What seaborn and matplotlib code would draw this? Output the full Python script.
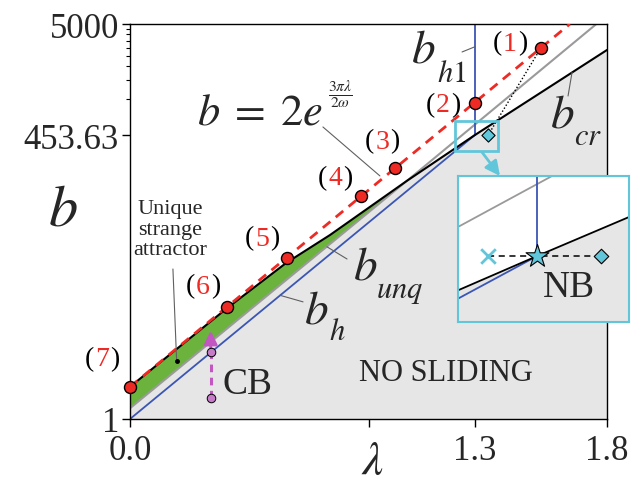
import numpy as np
import pandas as pd
import matplotlib
matplotlib.use("Agg")
import matplotlib.pyplot as plt
import seaborn as sns
from matplotlib.patches import Rectangle
from matplotlib.ticker import FixedLocator, NullFormatter
from matplotlib.offsetbox import TextArea, HPacker, AnnotationBbox

# ── data ─────────────────────────────────────────────────────────────────
lam_red = [0.0, 1.66]                      # b = 2 exp(3 pi lambda / 2 omega)
b_red = [2.0, 5000.0]

lam_cr = [0.0, 0.366, 0.589, 0.755, 1.045, 1.3, 1.8]
b_cr = [2.0, 10.9, 28.9, 52.9, 170.0, 453.63, 2856.0]

lam_unq = [0.0, 1.045, 1.76]
b_unq = [1.26, 170.0, 5000.0]

lam_h = [0.0, 1.3]
b_h = [1.0, 453.63]

lam_h1 = [1.3, 1.3]
b_h1 = [453.63, 5000.0]

pt_names = ["1", "2", "3", "4", "5", "6", "7"]
lam_pts = [1.55, 1.3, 1.0, 0.872, 0.591, 0.367, 0.0]
b_pts = [2970.0, 920.0, 225.0, 122.0, 32.0, 11.3, 2.0]

lam_nb, b_nb = 1.351, 453.63
lam_cb = 0.3045
b_cb = [1.57, 4.2]
b_cb_tip = 6.7
lam_usa, b_usa = 0.176, 3.49

x_ticks = [0.0, 0.9, 1.3, 1.8]
x_ticklabels = ["0.0", "", "1.3", "1.8"]
y_ticks = [1, 453.63, 5000]
y_ticklabels = ["1", "453.63", "5000"]
y_minor = [1000, 1500, 2000, 2500, 3000, 3500, 4000, 4500]

# inset (schematic, unit box)
in_u_cr, in_v_cr = [0.0, 0.463, 1.0], [0.217, 0.452, 0.719]
in_u_h, in_v_h = [0.0, 0.463], [0.16, 0.452]
in_u_h1, in_v_h1 = [0.463, 0.463], [0.452, 1.0]
in_u_unq, in_v_unq = [0.0, 0.55], [0.651, 1.0]
in_u_pts = [0.174, 0.463, 0.834]
in_v_pts = 0.452

# ── style ────────────────────────────────────────────────────────────────
sns.set_style("ticks")
plt.rcParams["font.family"] = ["Liberation Serif", "DejaVu Serif"]
plt.rcParams["mathtext.fontset"] = "stix"

RED = "#ee2a24"
BLUE = "#3b55b4"
GREY_LINE = "#9a9a9a"
GREY_FILL = "#e6e6e6"
GREEN = "#6cb33e"
CYAN = "#62c6da"
MAGENTA = "#c257c2"
LEAD = "#606060"

fig = plt.figure(figsize=(6.31, 4.89), dpi=100)
ax = fig.add_axes([130 / 631, 69 / 489, 477 / 631, 395 / 489])
ax.set_yscale("log")

# regions
grey_x = [0.0] + lam_unq[:2] + lam_cr[5:] + lam_cr[-1:]
grey_y = [1.0] + b_unq[:2] + b_cr[5:] + [1.0]
ax.fill(grey_x, grey_y, color=GREY_FILL, lw=0, zorder=1)
green_x = lam_cr[:5] + lam_unq[1::-1]
green_y = b_cr[:5] + b_unq[1::-1]
ax.fill(green_x, green_y, color=GREEN, lw=0, zorder=1)

# curves
sns.lineplot(x=lam_unq, y=b_unq, color=GREY_LINE, lw=1.5, ax=ax, zorder=2)
sns.lineplot(x=lam_h, y=b_h, color=BLUE, lw=1.3, ax=ax, zorder=2)
sns.lineplot(x=lam_h1, y=b_h1, color=BLUE, lw=1.3, ax=ax, zorder=2,
             estimator=None, sort=False)
sns.lineplot(x=lam_cr, y=b_cr, color="black", lw=1.5, ax=ax, zorder=3)
ax.plot(lam_red, b_red, color=RED, lw=2, ls=(0, (3.5, 2.5)), zorder=4)

# dotted link (1) -> NB point
ax.plot([lam_pts[0], lam_nb], [b_pts[0], b_nb], color="black", lw=1,
        ls=(0, (1, 1.5)), zorder=3)

pts = pd.DataFrame({"lam": lam_pts, "b": b_pts, "name": pt_names})
sns.scatterplot(data=pts, x="lam", y="b", color=RED, edgecolor="black",
                linewidth=1, s=75, ax=ax, zorder=6, clip_on=False)
ax.scatter([lam_nb], [b_nb], marker="D", s=45, color=CYAN,
           edgecolor="black", linewidth=0.8, zorder=6)

# CB arrow
ax.plot([lam_cb, lam_cb], [b_cb[0], b_cb[1]], color=MAGENTA, lw=2.2,
        ls=(0, (2.5, 1.8)), zorder=5)
ax.annotate("", xy=(lam_cb, b_cb_tip), xytext=(lam_cb, b_cb[1]),
            arrowprops=dict(arrowstyle="-|>", color=MAGENTA, lw=2,
                            mutation_scale=20, shrinkA=0, shrinkB=0), zorder=5)
ax.scatter([lam_cb, lam_cb], b_cb, s=38, color="#c77ac7",
           edgecolor="black", linewidth=0.7, zorder=6)

# zoom box + arrow to inset
ax.add_patch(Rectangle((1.226, 326), 0.163, 296, fill=False, ec=CYAN,
                       lw=2, zorder=7))
ax.annotate("", xy=(500 / 631, 1 - 177 / 489), xycoords="figure fraction",
            xytext=(1.328, 316), textcoords="data", annotation_clip=False,
            arrowprops=dict(arrowstyle="-|>", color=CYAN, lw=2,
                            mutation_scale=22, shrinkA=0, shrinkB=0),
            zorder=7)

# point labels "(n)" with red numbers
pos_lab = [(1.434, 3320), (1.181, 873), (0.951, 401), (0.774, 181),
           (0.498, 49.5), (0.275, 17.6), (-0.106, 3.65)]
for name, (lx, ly) in zip(pt_names, pos_lab):
    tp = dict(fontsize=20, family="Liberation Serif")
    box = HPacker(children=[TextArea("(", textprops=dict(color="black", **tp)),
                            TextArea(name, textprops=dict(color=RED, **tp)),
                            TextArea(")", textprops=dict(color="black", **tp))],
                  sep=1, pad=0, align="baseline")
    ab = AnnotationBbox(box, (lx, ly), frameon=False, box_alignment=(0.5, 0.5),
                        annotation_clip=False, zorder=8)
    ax.add_artist(ab)

# curve labels
def curve_label(xb, yb, xs, ys, sub, bsize=34, ssize=22):
    ax.text(xb, yb, r"$b$", fontsize=bsize, ha="left", va="baseline", zorder=8)
    ax.text(xs, ys, "$" + sub + "$", fontsize=ssize, ha="left",
            va="baseline", zorder=8)

curve_label(1.062, 2204, 1.158, 1463, "h1", ssize=22)
curve_label(1.586, 543, 1.675, 376, "cr")
curve_label(0.843, 20.5, 0.928, 13.9, "unq")
curve_label(0.658, 7.93, 0.751, 5.61, "h", ssize=22)

# formula  b = 2 e^(3 pi lambda / 2 omega)
ax.text(0.253, 579, r"$b\;=\;2e$", fontsize=32, ha="left", va="baseline",
        zorder=8)
ax.text(0.795, 1120, r"$\frac{3\pi\lambda}{2\omega}$", fontsize=16,
        ha="center", va="center", zorder=8)

lead = dict(arrowstyle="-", color=LEAD, lw=0.8, shrinkA=0, shrinkB=0)
ax.annotate("", xy=(0.943, 189), xytext=(0.728, 543), arrowprops=lead)
ax.annotate("", xy=(1.3, 3050), xytext=(1.253, 2735), arrowprops=lead)
ax.annotate("", xy=(1.668, 1760), xytext=(1.653, 1059), arrowprops=lead)
ax.annotate("", xy=(0.743, 41.0), xytext=(0.819, 31.5), arrowprops=lead)
ax.annotate("", xy=(0.566, 14.4), xytext=(0.653, 12.5), arrowprops=lead)
ax.annotate("", xy=(lam_usa, b_usa), xytext=(0.162, 25.4), arrowprops=lead)
ax.plot([lam_usa], [b_usa], "o", color="black", ms=2.5, zorder=8)

ax.text(0.151, 60, "Unique\nstrange\nattractor", fontsize=16, ha="center",
        va="center", linespacing=1.12, zorder=8)
ax.text(0.445, 2.13, "CB", fontsize=27, ha="center", va="center", zorder=8)
ax.text(1.192, 2.75, "NO SLIDING", fontsize=22, ha="center", va="center",
        zorder=8)

# axes
ax.set_xlim(0, 1.8)
ax.set_ylim(1, 5000)
ax.set_xticks(x_ticks)
ax.set_xticklabels(x_ticklabels)
ax.set_yticks(y_ticks)
ax.set_yticklabels(y_ticklabels)
ax.yaxis.set_minor_locator(FixedLocator(y_minor))
ax.yaxis.set_minor_formatter(NullFormatter())
ax.xaxis.set_minor_locator(FixedLocator([]))
ax.tick_params(axis="both", which="major", length=6, width=1, direction="out",
               labelsize=25, color="black")
ax.tick_params(axis="x", which="major", pad=5)
ax.tick_params(axis="y", which="major", pad=2)
ax.tick_params(axis="y", which="minor", length=3, width=0.8, color="black")
ax.tick_params(axis="x", which="both", top=False)
ax.tick_params(axis="y", which="both", right=False)
for sp in ax.spines.values():
    sp.set_visible(True)
    sp.set_color("black")
    sp.set_linewidth(1)
ax.set_xlabel(r"$\lambda$", fontsize=34)
ax.xaxis.set_label_coords(0.508, -0.108)
ax.xaxis.label.set_va("center")
ax.set_ylabel(r"$b$", fontsize=42, rotation=0)
ax.yaxis.set_label_coords(-0.14, 0.527)
ax.yaxis.label.set(ha="center", va="center")
ax.set_facecolor("white")

# inset
axin = fig.add_axes([458 / 631, 166 / 489, 171 / 631, 146 / 489])
axin.set_xlim(0, 1)
axin.set_ylim(0, 1)
axin.fill_between(in_u_cr, 0, in_v_cr, color=GREY_FILL, lw=0)
sns.lineplot(x=in_u_unq, y=in_v_unq, color=GREY_LINE, lw=1.3, ax=axin)
sns.lineplot(x=in_u_h, y=in_v_h, color=BLUE, lw=1.3, ax=axin)
sns.lineplot(x=in_u_h1, y=in_v_h1, color=BLUE, lw=1.3, ax=axin,
             estimator=None, sort=False)
sns.lineplot(x=in_u_cr, y=in_v_cr, color="black", lw=1.3, ax=axin)
axin.plot([in_u_pts[0], in_u_pts[2]], [in_v_pts, in_v_pts], color="black",
          lw=1.1, ls=(0, (4, 3)), zorder=3)
axin.scatter([in_u_pts[0]], [in_v_pts], marker="x", s=110, color=CYAN,
             linewidths=2, zorder=4)
axin.scatter([in_u_pts[1]], [in_v_pts], marker="*", s=300, color=CYAN,
             edgecolor="black", linewidth=0.8, zorder=5)
axin.scatter([in_u_pts[2]], [in_v_pts], marker="D", s=55, color=CYAN,
             edgecolor="black", linewidth=0.8, zorder=4)
axin.text(0.647, 0.24, "NB", fontsize=27, ha="center", va="center")
axin.set_xticks([])
axin.set_yticks([])
axin.set_xlabel("")
axin.set_ylabel("")
axin.set_facecolor("white")
for sp in axin.spines.values():
    sp.set_visible(True)
    sp.set_color(CYAN)
    sp.set_linewidth(1.5)

fig.savefig("out.png", dpi=100)
